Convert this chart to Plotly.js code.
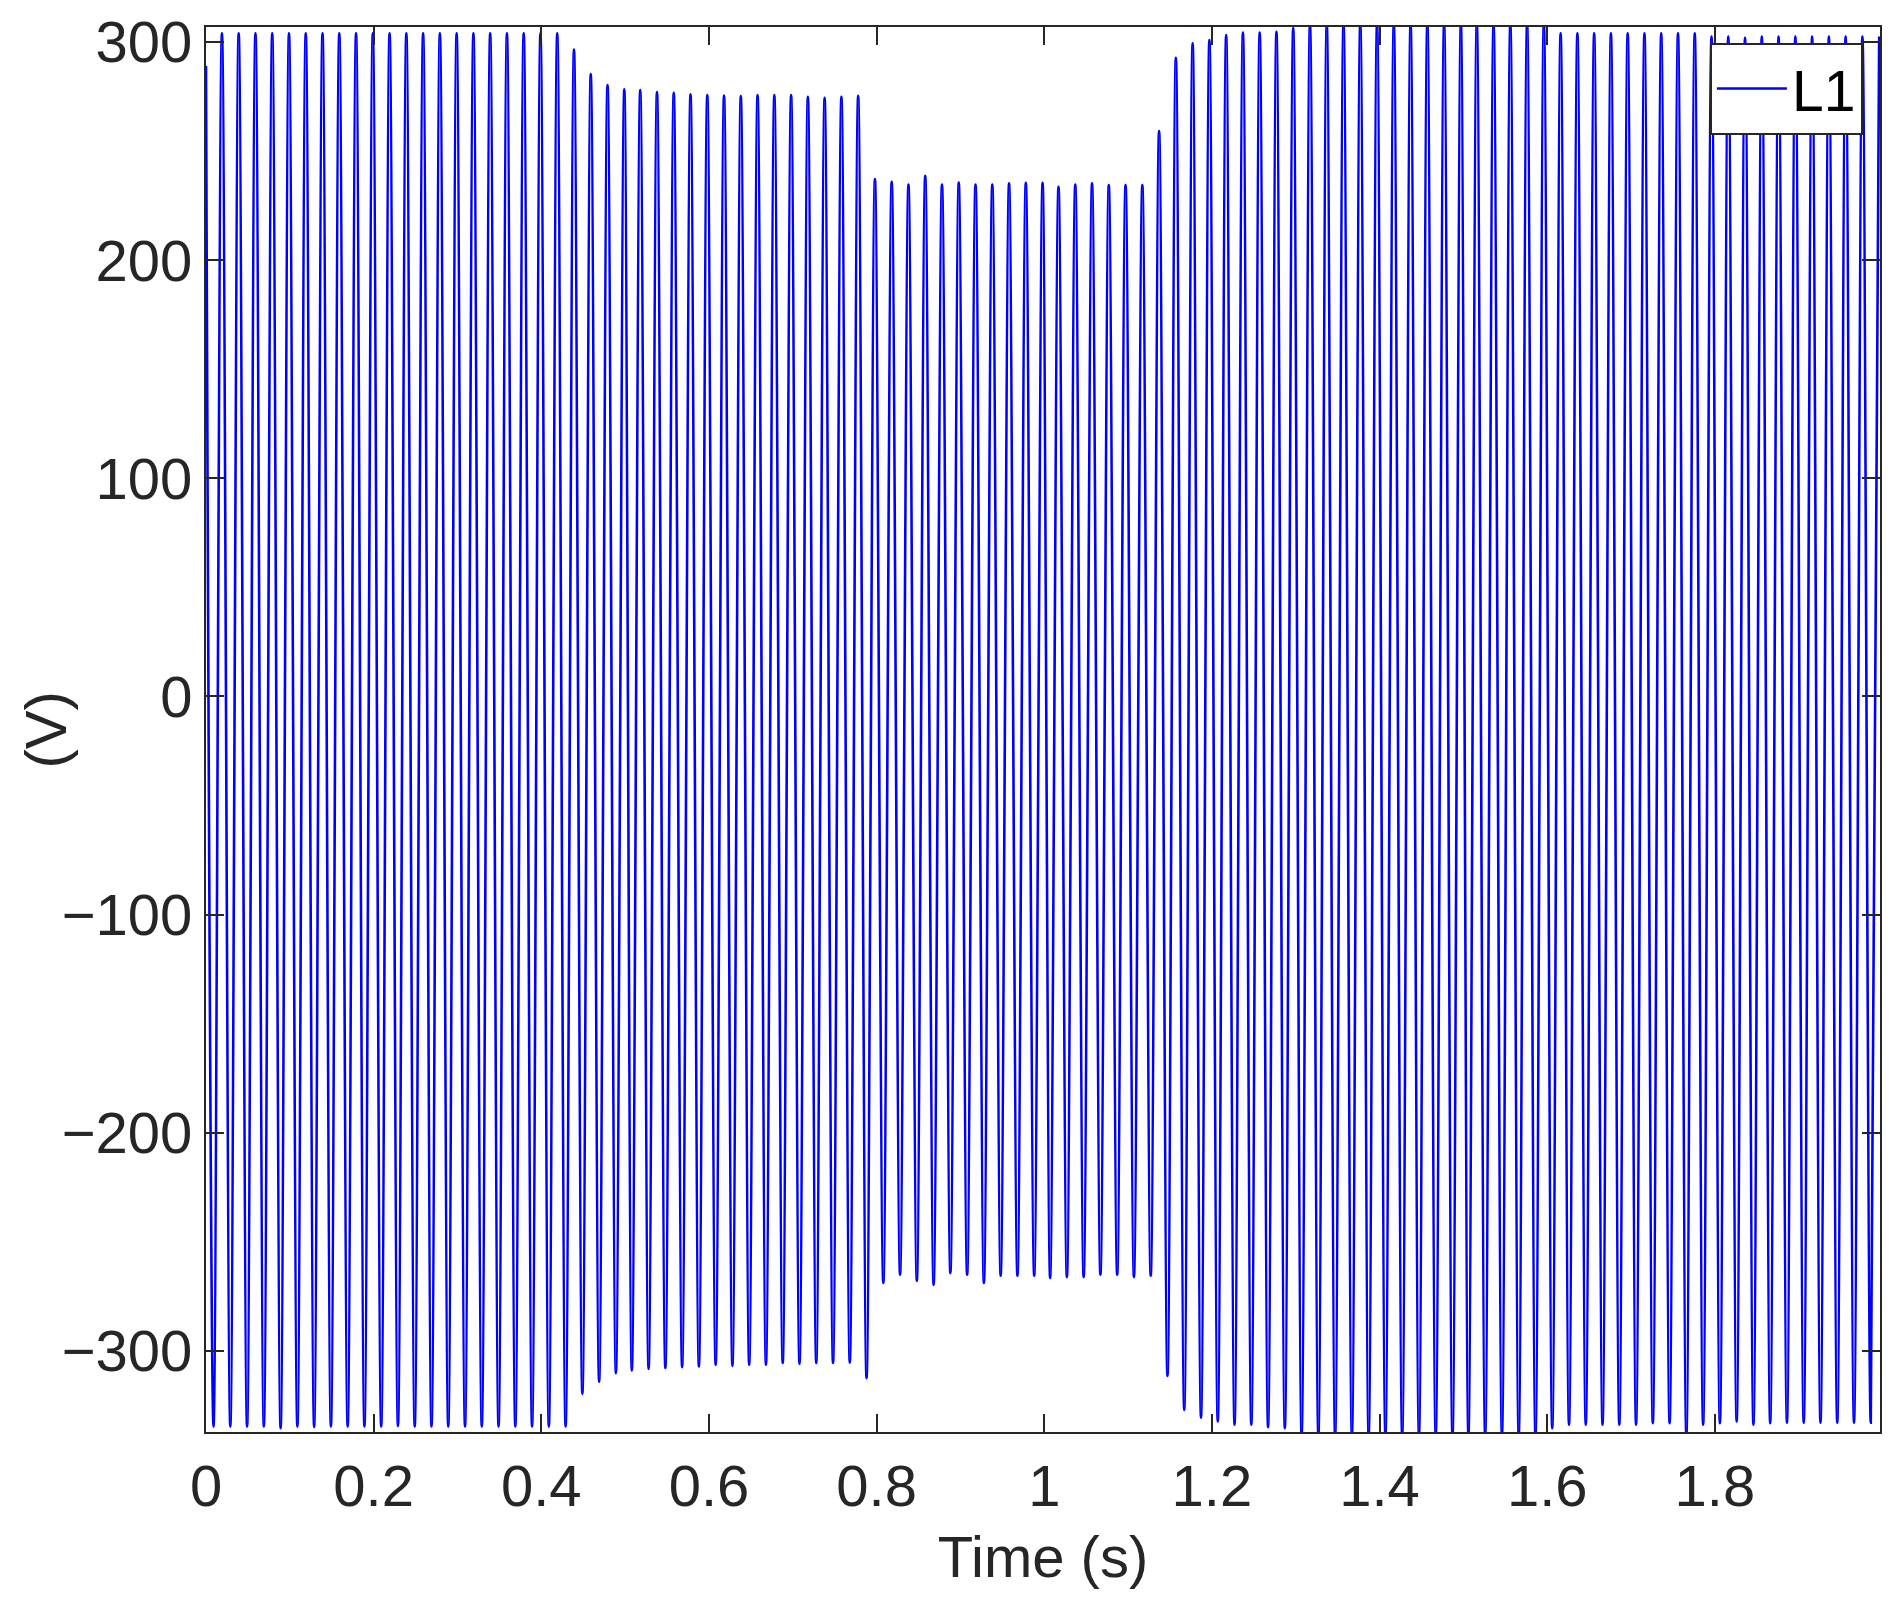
<!DOCTYPE html>
<html>
<head>
<meta charset="utf-8">
<script src="https://cdn.plot.ly/plotly-3.0.1.min.js"></script>
<style>
  html, body { margin: 0; padding: 0; background: #ffffff; }
  #chart { width: 1902px; height: 1612px; }
</style>
</head>
<body>
<div id="chart"></div>
<script>
// ---- Data (phase voltage L1, 50 Hz, one peak and one trough per cycle) ----
const startTime = 0;
const startVolt = 289;

const troughTime = [
  0.009, 0.029, 0.049, 0.069, 0.089, 0.109, 0.129, 0.149, 0.169, 0.189,
  0.209, 0.229, 0.249, 0.269, 0.289, 0.309, 0.329, 0.349, 0.369, 0.389,
  0.409, 0.429, 0.449, 0.469, 0.489,
  0.508, 0.528, 0.548, 0.568, 0.588, 0.608, 0.628, 0.648, 0.668, 0.688,
  0.708, 0.728, 0.748, 0.768, 0.788, 0.808, 0.828, 0.848, 0.868, 0.888,
  0.908, 0.928, 0.948, 0.968, 0.988,
  1.007, 1.027, 1.047, 1.067, 1.087, 1.107, 1.127, 1.147, 1.167, 1.187,
  1.207, 1.227, 1.247, 1.267, 1.287, 1.307, 1.327, 1.347, 1.367, 1.387,
  1.407, 1.427, 1.447, 1.467, 1.487,
  1.506, 1.526, 1.546, 1.566, 1.586, 1.606, 1.626, 1.646, 1.666, 1.686,
  1.706, 1.726, 1.746, 1.766, 1.786, 1.806, 1.826, 1.846, 1.866, 1.886,
  1.906, 1.926, 1.946, 1.966, 1.986
];

const troughVolt = [
  -334.7, -334.7, -334.7, -334.7, -335.5, -334.7, -334.9, -334.7, -334.7, -334.7,
  -334.7, -334.4, -334.7, -334.7, -334.7, -334.7, -334.7, -334.7, -334.7, -334.7,
  -334.7, -334.7, -319.7, -314.1, -310.2,
  -309.0, -308.3, -307.9, -307.5, -307.2, -306.4, -306.9, -306.4, -306.4, -305.6,
  -306.0, -305.6, -305.6, -305.4, -312.5, -268.9, -265.1, -267.9, -269.7, -264.4,
  -265.1, -268.9, -265.6, -265.6, -265.6,
  -266.6, -266.2, -266.2, -265.1, -265.1, -266.2, -265.6, -311.5, -327.1, -330.6,
  -332.4, -333.9, -333.9, -335.0, -335.5, -339.0, -339.0, -339.0, -339.0, -339.0,
  -339.0, -339.0, -339.0, -339.0, -339.0,
  -339.0, -339.0, -339.0, -339.0, -339.0, -335.5, -333.9, -333.9, -333.9, -333.9,
  -333.9, -333.2, -333.2, -339.0, -333.9, -333.2, -332.4, -333.9, -333.2, -332.9,
  -332.9, -332.9, -332.9, -332.9, -332.9
];

const peakTime = [
  0.019, 0.039, 0.059, 0.079, 0.099, 0.119, 0.139, 0.159, 0.179, 0.199,
  0.219, 0.239, 0.259, 0.279, 0.299, 0.319, 0.339, 0.359, 0.379, 0.399,
  0.419, 0.439, 0.459, 0.479, 0.499,
  0.518, 0.538, 0.558, 0.578, 0.598, 0.618, 0.638, 0.658, 0.678, 0.698,
  0.718, 0.738, 0.758, 0.778, 0.798, 0.818, 0.838, 0.858, 0.878, 0.898,
  0.918, 0.938, 0.958, 0.978, 0.998,
  1.017, 1.037, 1.057, 1.077, 1.097, 1.117, 1.137, 1.157, 1.177, 1.197,
  1.217, 1.237, 1.257, 1.277, 1.297, 1.317, 1.337, 1.357, 1.377, 1.397,
  1.417, 1.437, 1.457, 1.477, 1.497,
  1.516, 1.536, 1.556, 1.576, 1.596, 1.616, 1.636, 1.656, 1.676, 1.696,
  1.716, 1.736, 1.756, 1.776, 1.796, 1.816, 1.836, 1.856, 1.876, 1.896,
  1.916, 1.936, 1.956, 1.976, 1.996
];

const peakVolt = [
  304.0, 304.0, 304.0, 304.0, 304.0, 304.0, 304.0, 304.0, 304.0, 304.0,
  304.0, 304.0, 304.0, 304.0, 304.0, 304.0, 304.0, 304.0, 304.0, 304.0,
  304.0, 296.6, 285.3, 280.3, 278.3,
  278.0, 277.1, 276.7, 276.1, 275.7, 275.5, 275.2, 275.7, 275.7, 275.7,
  274.9, 274.4, 274.9, 275.4, 237.2, 235.9, 234.7, 238.7, 234.7, 235.6,
  234.7, 234.7, 235.2, 235.5, 235.5,
  233.6, 234.7, 235.2, 234.4, 234.4, 234.4, 259.2, 292.8, 299.4, 300.9,
  303.2, 304.4, 304.4, 304.7, 306.5, 308.5, 308.5, 308.5, 308.5, 308.5,
  308.5, 308.5, 308.5, 308.5, 308.5,
  308.5, 308.5, 308.5, 308.5, 308.5, 304.0, 304.0, 304.0, 304.0, 304.0,
  304.0, 304.0, 304.0, 304.0, 302.5, 302.5, 302.0, 302.5, 302.5, 302.5,
  302.5, 302.5, 302.5, 302.5, 302.5
];

const seriesName = "L1";
const xTickVals = [0, 0.2, 0.4, 0.6, 0.8, 1, 1.2, 1.4, 1.6, 1.8];
const xTickText = ["0", "0.2", "0.4", "0.6", "0.8", "1", "1.2", "1.4", "1.6", "1.8"];
const yTickVals = [-300, -200, -100, 0, 100, 200, 300];
const yTickText = ["\u2212300", "\u2212200", "\u2212100", "0", "100", "200", "300"];
const xTitle = "Time (s)";
const yTitle = "(V)";

// ---- Build the waveform sequence: start, then trough/peak per cycle ----
const t = [startTime];
const v = [startVolt];
for (let i = 0; i < troughTime.length; i++) {
  t.push(troughTime[i]); v.push(troughVolt[i]);
  t.push(peakTime[i]);   v.push(peakVolt[i]);
}

const axisColor = "#262626";
const fontFamily = "'Liberation Sans', Arial, Helvetica, sans-serif";

const trace = {
  type: "scatter",
  mode: "lines",
  x: t,
  y: v,
  name: seriesName,
  line: { color: "#0000ff", width: 2.6, shape: "spline", smoothing: 1 },
  showlegend: true
};

const layout = {
  width: 1902,
  height: 1612,
  paper_bgcolor: "#ffffff",
  plot_bgcolor: "#ffffff",
  margin: { l: 206, r: 22, t: 27, b: 180 },
  showlegend: true,
  font: { family: fontFamily, color: axisColor, size: 58 },
  xaxis: {
    range: [0, 1.997],
    tickmode: "array",
    tickvals: xTickVals,
    ticktext: xTickText,
    ticks: "inside",
    ticklen: 18,
    tickwidth: 2,
    tickcolor: axisColor,
    showline: true,
    linecolor: axisColor,
    linewidth: 2,
    mirror: "ticks",
    showgrid: false,
    zeroline: false,
    tickfont: { family: fontFamily, size: 58, color: axisColor },
    ticklabelstandoff: 2,
    title: { text: xTitle, font: { family: fontFamily, size: 58, color: axisColor }, standoff: 20 },
    automargin: false
  },
  yaxis: {
    range: [-337.2, 306.9],
    tickmode: "array",
    tickvals: yTickVals,
    ticktext: yTickText,
    ticks: "inside",
    ticklen: 18,
    tickwidth: 2,
    tickcolor: axisColor,
    showline: true,
    linecolor: axisColor,
    linewidth: 2,
    mirror: "ticks",
    showgrid: false,
    zeroline: false,
    tickfont: { family: fontFamily, size: 58, color: axisColor },
    ticklabelstandoff: 0,
    automargin: false
  },
  annotations: [
    {
      text: yTitle,
      xref: "paper",
      yref: "paper",
      x: -0.0956,
      y: 0.5,
      xanchor: "center",
      yanchor: "middle",
      textangle: -90,
      showarrow: false,
      font: { family: fontFamily, size: 58, color: axisColor }
    }
  ],
  legend: {
    x: 0.9898,
    y: 0.9886,
    xanchor: "right",
    yanchor: "top",
    bgcolor: "#ffffff",
    bordercolor: axisColor,
    borderwidth: 2,
    font: { family: fontFamily, size: 57, color: "#000000" },
    itemwidth: 70,
    valign: "middle"
  }
};

Plotly.newPlot("chart", [trace], layout, { displayModeBar: false, staticPlot: true });
</script>
</body>
</html>
